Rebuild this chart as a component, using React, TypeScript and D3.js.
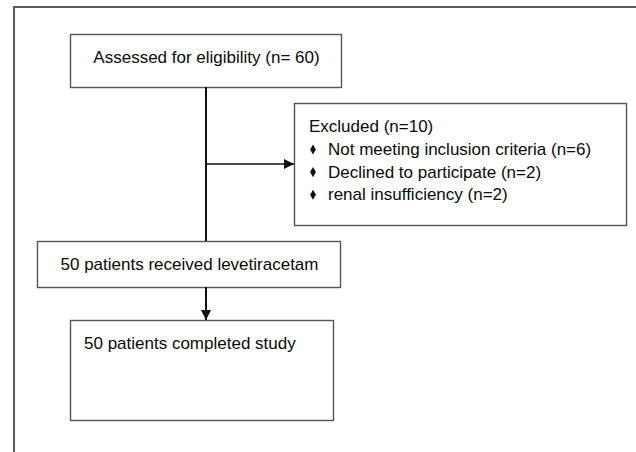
import React, { useEffect, useRef } from 'react'
import * as d3 from 'd3'

// flow chart text
const assessedLabel = 'Assessed for eligibility (n= 60)'
const excludedTitle = 'Excluded (n=10)'
const excludedReasons = [
  'Not meeting inclusion criteria (n=6)',
  'Declined to participate (n=2)',
  'renal insufficiency (n=2)'
]
const receivedLabel = '50 patients received levetiracetam'
const completedLabel = '50 patients completed study'

const FONT = '"Liberation Sans", Arial, sans-serif'
const WIDTH = 636
const HEIGHT = 452

// box layout in page pixels
const LAYOUT = {
  assessed: { x: 70, y: 34, w: 271, h: 53 },
  excluded: { x: 294, y: 103, w: 332, h: 122 },
  received: { x: 37, y: 241, w: 303, h: 46 },
  completed: { x: 70, y: 320, w: 263, h: 100 }
}

const App: React.FC = () => {
  const svgRef = useRef<SVGSVGElement>(null)

  useEffect(() => {
    if (!svgRef.current) return
    const svg = d3.select(svgRef.current)
    svg.selectAll('*').remove()

    // outer frame (top and left only are visible)
    svg.append('path')
      .attr('d', `M14,${HEIGHT} L14,7 L${WIDTH},7`)
      .attr('fill', 'none')
      .attr('stroke', '#5a5a5a')
      .attr('stroke-width', 2)

    svg.append('defs').append('marker')
      .attr('id', 'arrow')
      .attr('viewBox', '0 0 10 10')
      .attr('refX', 10)
      .attr('refY', 5)
      .attr('markerWidth', 10)
      .attr('markerHeight', 10)
      .attr('markerUnits', 'userSpaceOnUse')
      .attr('orient', 'auto')
      .append('path')
      .attr('d', 'M0,0 L10,5 L0,10 Z')
      .attr('fill', '#111')

    const boxes = Object.values(LAYOUT)
    svg.selectAll('rect.box')
      .data(boxes)
      .enter().append('rect')
      .attr('class', 'box')
      .attr('x', d => d.x + 0.5)
      .attr('y', d => d.y + 0.5)
      .attr('width', d => d.w)
      .attr('height', d => d.h)
      .attr('fill', '#fff')
      .attr('stroke', '#555')
      .attr('stroke-width', 1.4)

    const { assessed, excluded, received, completed } = LAYOUT
    const stemX = assessed.x + assessed.w / 2 + 0.5
    const branchY = excluded.y + 61

    // connectors
    svg.append('line')
      .attr('x1', stemX).attr('y1', assessed.y + assessed.h)
      .attr('x2', stemX).attr('y2', received.y)
      .attr('stroke', '#111').attr('stroke-width', 2)

    svg.append('line')
      .attr('x1', stemX).attr('y1', branchY)
      .attr('x2', excluded.x).attr('y2', branchY)
      .attr('stroke', '#111').attr('stroke-width', 1.6)
      .attr('marker-end', 'url(#arrow)')

    svg.append('line')
      .attr('x1', stemX).attr('y1', received.y + received.h)
      .attr('x2', stemX).attr('y2', completed.y)
      .attr('stroke', '#111').attr('stroke-width', 2)
      .attr('marker-end', 'url(#arrow)')

    const text = (x: number, y: number, s: string, anchor = 'start') =>
      svg.append('text')
        .attr('x', x)
        .attr('y', y)
        .attr('text-anchor', anchor)
        .style('font-family', FONT)
        .style('font-size', '17px')
        .style('fill', '#0a0a0a')
        .text(s)

    text(assessed.x + assessed.w / 2 + 1, 63, assessedLabel, 'middle')
    text(received.x + received.w / 2 + 1, 270, receivedLabel, 'middle')
    text(completed.x + 14, 349, completedLabel)

    text(excluded.x + 15, 132, excludedTitle)
    const diamond = d3.symbol(d3.symbolDiamond, 36)
    excludedReasons.forEach((r, i) => {
      const y = 155 + i * 22.6
      svg.append('path')
        .attr('d', diamond())
        .attr('transform', `translate(${excluded.x + 19},${y - 5.5}) scale(0.9,0.9)`)
        .attr('fill', '#111')
      text(excluded.x + 34, y, r)
    })
  }, [])

  return (
    <svg
      ref={svgRef}
      width={WIDTH}
      height={HEIGHT}
      style={{ position: 'absolute', left: 0, top: 0, background: '#fff' }}
    />
  )
}

export default App
